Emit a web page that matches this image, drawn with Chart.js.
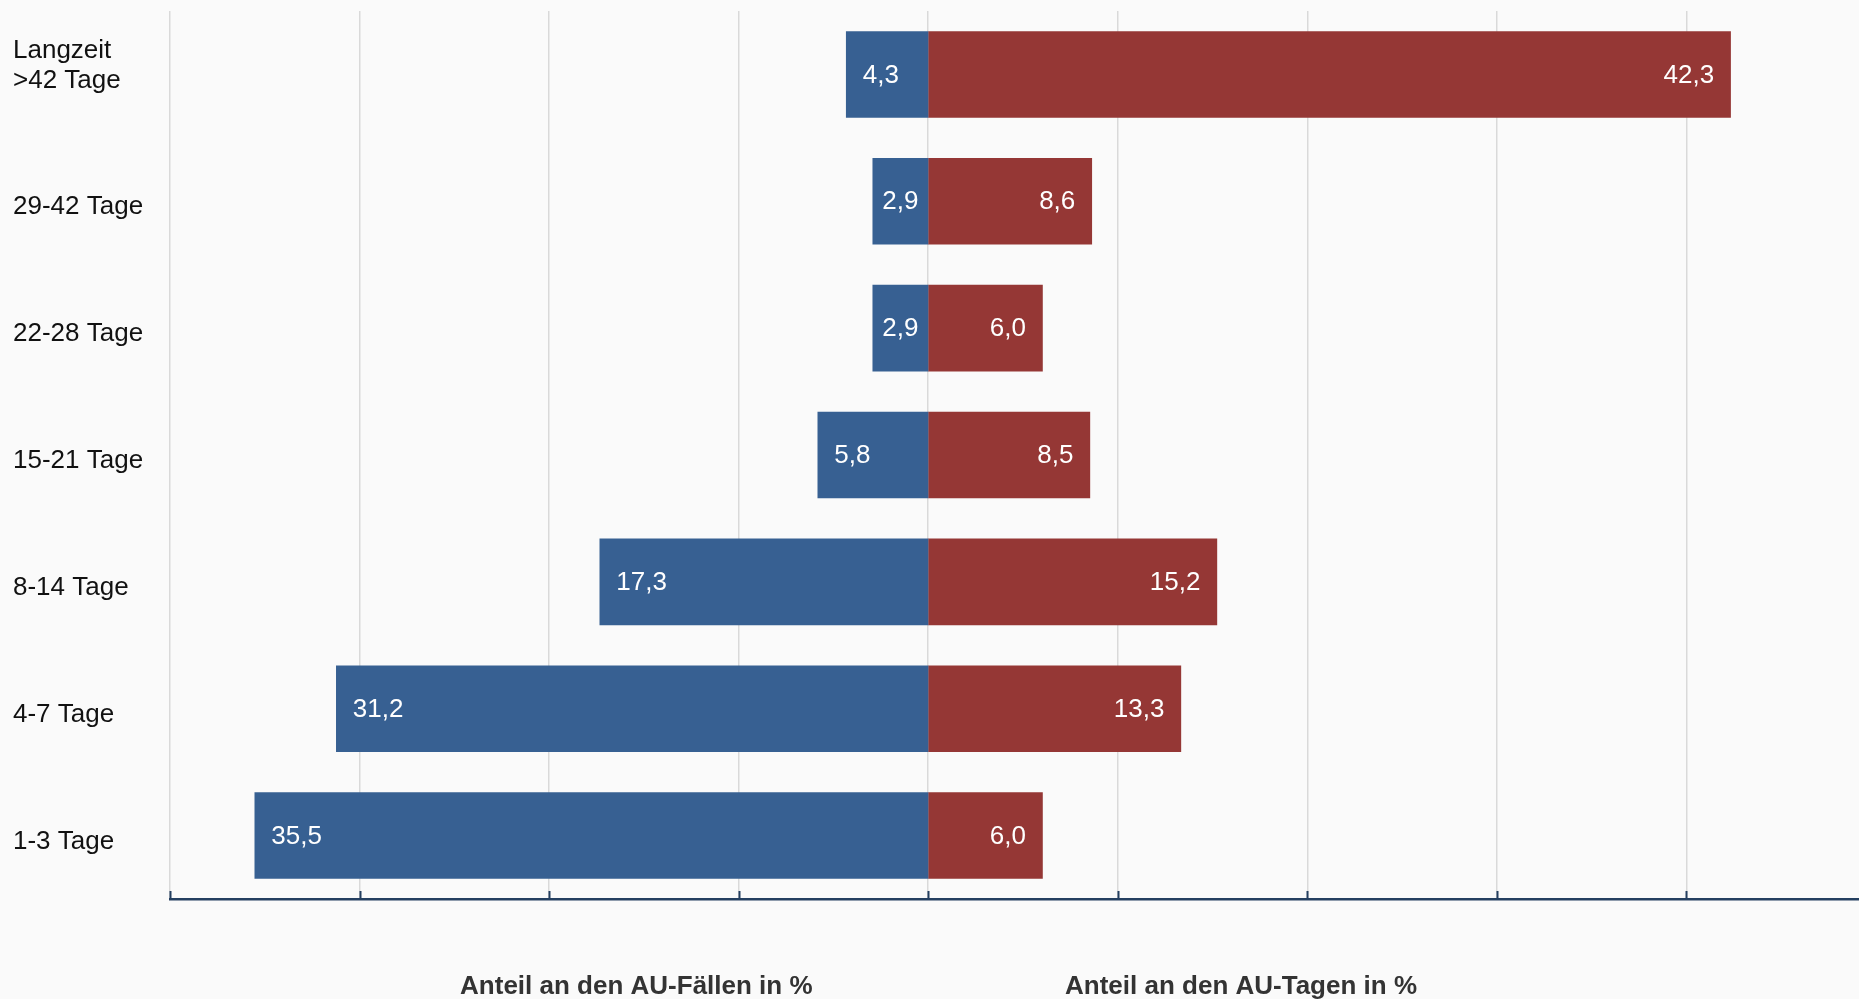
<!DOCTYPE html>
<html><head><meta charset="utf-8">
<script src="https://cdn.jsdelivr.net/npm/chart.js@4"></script>
<style>
html,body{margin:0;padding:0;background:#fafafa;overflow:hidden}
#wrap{position:relative;width:1859px;height:999px}
</style>
</head><body><div id="wrap"><canvas id="c"></canvas></div>
<script>
const categories = [['Langzeit', '>42 Tage', ''], '29-42 Tage', '22-28 Tage', '15-21 Tage', '8-14 Tage', '4-7 Tage', '1-3 Tage'];
const auFaelle = [4.3, 2.9, 2.9, 5.8, 17.3, 31.2, 35.5];
const auTage = [42.3, 8.6, 6.0, 8.5, 15.2, 13.3, 6.0];
const axisTitles = ['Anteil an den AU-Fällen in %', 'Anteil an den AU-Tagen in %'];
const axisTitleCenters = [-15.4, 16.5];

const FONT = '"Liberation Sans", Arial, sans-serif';

const valueLabels = {
  id: 'valueLabels',
  afterDatasetsDraw(chart) {
    const ctx = chart.ctx;
    ctx.save();
    ctx.font = '26px ' + FONT;
    ctx.fillStyle = '#ffffff';
    ctx.textBaseline = 'middle';
    chart.data.datasets.forEach((ds, di) => {
      const meta = chart.getDatasetMeta(di);
      meta.data.forEach((bar, i) => {
        const v = ds.data[i];
        const txt = Math.abs(v).toFixed(1).replace('.', ',');
        const w = ctx.measureText(txt).width;
        const left = Math.min(bar.x, bar.base), right = Math.max(bar.x, bar.base);
        const pad = 16;
        let x;
        if (right - left < w + 2 * pad) { ctx.textAlign = 'center'; x = (left + right) / 2; }
        else if (v < 0) { ctx.textAlign = 'left'; x = left + pad; }
        else { ctx.textAlign = 'right'; x = right - pad; }
        ctx.fillText(txt, x, bar.y + 1);
      });
    });
    ctx.restore();
  }
};

const axisExtras = {
  id: 'axisExtras',
  afterDraw(chart) {
    const ctx = chart.ctx;
    const xs = chart.scales.x;
    const bottom = chart.chartArea.bottom;
    ctx.save();
    ctx.strokeStyle = '#243f60';
    ctx.lineWidth = 2;
    xs.ticks.forEach(t => {
      const px = Math.round(xs.getPixelForValue(t.value)) + 0.5;
      ctx.beginPath();
      ctx.moveTo(px, bottom - 8);
      ctx.lineTo(px, bottom);
      ctx.stroke();
    });
    ctx.fillStyle = '#333333';
    ctx.font = 'bold 26px ' + FONT;
    ctx.textAlign = 'center';
    ctx.textBaseline = 'alphabetic';
    axisTitles.forEach((t, i) => {
      ctx.fillText(t, xs.getPixelForValue(axisTitleCenters[i]), bottom + 95);
    });
    ctx.restore();
  }
};

new Chart(document.getElementById('c'), {
  type: 'bar',
  data: {
    labels: categories,
    datasets: [
      { label: 'AU-Fälle', data: auFaelle.map(v => -v), backgroundColor: '#376092', borderWidth: 0, inflateAmount: 0.8 },
      { label: 'AU-Tage', data: auTage, backgroundColor: '#953735', borderWidth: 0, inflateAmount: 0.8 }
    ]
  },
  options: {
    indexAxis: 'y',
    responsive: true,
    maintainAspectRatio: false,
    animation: false,
    events: [],
    barPercentage: 0.67,
    categoryPercentage: 1.0,
    layout: { padding: { left: 13, top: 11, right: 0, bottom: 0 } },
    plugins: { legend: { display: false }, tooltip: { enabled: false }, title: { display: false } },
    scales: {
      x: {
        stacked: true,
        min: -40,
        max: 49.1,
        ticks: { display: false, stepSize: 10 },
        afterBuildTicks(scale) { scale.ticks = scale.ticks.filter(t => Math.abs(t.value % 10) < 1e-6); },
        afterFit(scale) { scale.height = 100; scale.paddingLeft = 0; scale.paddingRight = 0; },
        grid: { color: '#d9d9d9', lineWidth: 1.5, drawTicks: false },
        border: { display: true, color: '#243f60', width: 2.5 }
      },
      y: {
        stacked: true,
        grid: { display: false, drawTicks: false },
        border: { display: false },
        afterFit(scale) { scale.width = 157; scale.paddingTop = 0; scale.paddingBottom = 0; },
        ticks: {
          crossAlign: 'far',
          color: '#111111',
          font: { family: FONT, size: 26, lineHeight: 1.15 },
          labelOffset: 6,
          padding: 0
        }
      }
    }
  },
  plugins: [valueLabels, axisExtras]
});
</script>
</body></html>
